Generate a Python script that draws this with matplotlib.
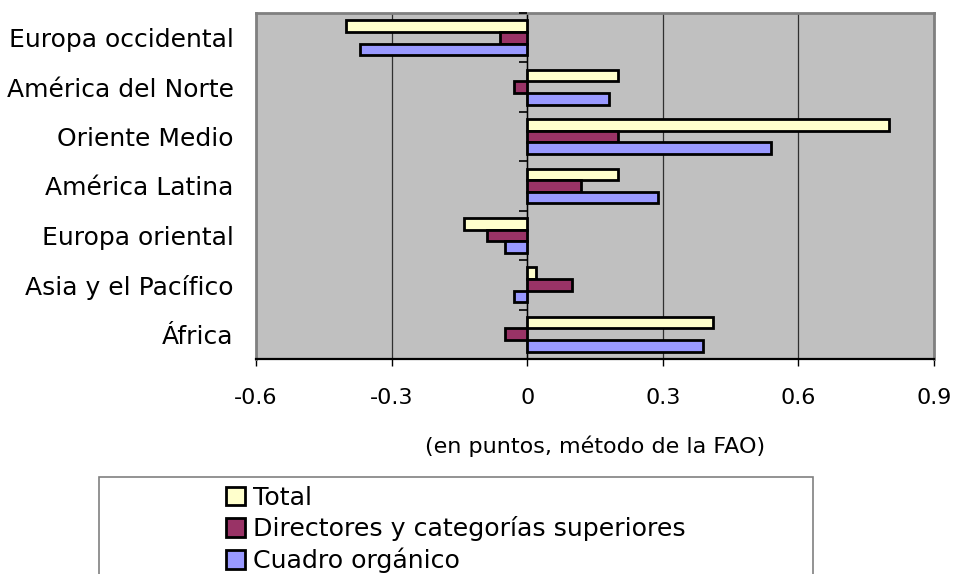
import matplotlib
matplotlib.use("Agg")
import matplotlib.pyplot as plt
import numpy as np
from matplotlib.patches import Rectangle

plt.rcParams['font.family'] = ['DejaVu Sans']

# regions, top to bottom
regions = ["Europa occidental", "América del Norte", "Oriente Medio",
           "América Latina", "Europa oriental", "Asia y el Pacífico", "África"]
total = [-0.40, 0.20, 0.80, 0.20, -0.14, 0.02, 0.41]
directores = [-0.06, -0.03, 0.20, 0.12, -0.09, 0.10, -0.05]
cuadro = [-0.37, 0.18, 0.54, 0.29, -0.05, -0.03, 0.39]
series_names = ["Total", "Directores y categorías superiores", "Cuadro orgánico"]
colors = ["#FFFFCC", "#993366", "#9999FF"]
xticks = [-0.6, -0.3, 0, 0.3, 0.6, 0.9]
xtick_labels = ["-0.6", "-0.3", "0", "0.3", "0.6", "0.9"]

W, H = 955, 574
fig = plt.figure(figsize=(W / 100, H / 100), dpi=100)
ax = fig.add_axes([256 / W, 1 - 359 / H, (934 - 256) / W, (359 - 13) / H])
ax.set_facecolor("#C0C0C0")

y = np.arange(len(regions))
bh = 0.235
handles = []
for k, (vals, name, c) in enumerate(zip([total, directores, cuadro], series_names, colors)):
    b = ax.barh(y + (k - 1) * bh, vals, height=bh, color=c, edgecolor="black",
                linewidth=2, label=name, zorder=3)
    handles.append(b)

ax.set_xlim(-0.6, 0.9)
ax.set_ylim(len(regions) - 0.5, -0.5)
ax.set_xticks(xticks)
ax.set_xticklabels(xtick_labels, fontsize=16)
ax.set_yticks(y)
ax.set_yticklabels(regions, fontsize=18)
ax.tick_params(axis="y", length=0, pad=16)
ax.tick_params(axis="x", length=5, width=1, direction="out", pad=16)
ax.grid(axis="x", color="#303030", linewidth=0.9, zorder=1)
ax.set_axisbelow(True)

# category axis ticks on the zero line
bounds = np.arange(len(regions) + 1) - 0.5
ax.hlines(bounds, -0.018, 0, color="black", linewidth=1.2, zorder=4, clip_on=False)
ax.axvline(0, color="black", linewidth=1.0, zorder=2)

for s in ["top", "right", "left"]:
    ax.spines[s].set_color("#808080")
    ax.spines[s].set_linewidth(2)
ax.spines["bottom"].set_color("black")
ax.spines["bottom"].set_linewidth(1.6)

fig.text(595 / W, 1 - 446 / H, "(en puntos, método de la FAO)", fontsize=16,
         ha="center", va="center")

# legend box (extends past the bottom edge)
fig.patches.append(Rectangle((99 / W, -0.1), (813 - 99) / W, 0.1 + 1 - 477 / H,
                             transform=fig.transFigure, facecolor="white",
                             edgecolor="#808080", linewidth=1.2))
leg = fig.legend(handles=handles, loc="upper left", bbox_to_anchor=(226 / W, 1 - 486 / H),
                 frameon=False, fontsize=18.2, handlelength=0.75, handleheight=0.75,
                 handletextpad=0.3, labelspacing=0.25, borderpad=0, borderaxespad=0)

fig.savefig("out.png", dpi=100)
